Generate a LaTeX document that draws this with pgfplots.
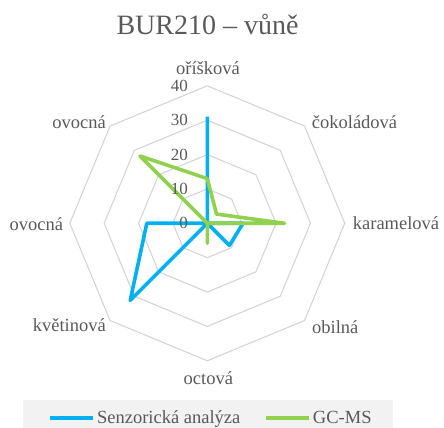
\documentclass[border=0pt]{standalone}
\usepackage{pgfplots}
\pgfplotsset{compat=1.18}
\usepackage{fontspec}
\setmainfont{Liberation Serif}
\definecolor{txt}{HTML}{595959}
\definecolor{gridc}{HTML}{D4D4D4}
\definecolor{blu}{HTML}{00B0F0}
\definecolor{grn}{HTML}{92D050}
\definecolor{legbg}{HTML}{F2F2F2}
\begin{document}
\begin{tikzpicture}
\path[use as bounding box] (0bp,0bp) rectangle (444bp,428bp);
\fill[legbg] (23bp,0bp) rectangle (393bp,28bp);
\begin{axis}[
  at={(207.3bp,204.7bp)}, anchor=origin,
  x=3.4375bp, y=3.4375bp,
  xmin=-40, xmax=40, ymin=-40, ymax=40,
  hide axis, clip=false,
  legend columns=2,
  legend style={at={(axis cs:1.08,-56.64)}, anchor=center,
    fill=none, draw=none, font=\fontsize{18.5bp}{20bp}\selectfont\color{txt},
    /tikz/every even column/.append style={column sep=22bp},
    inner sep=0pt},
  legend image code/.code={\draw[#1] (0bp,0bp) -- (43bp,0bp);},
]
% octagon grid
\addplot[data cs=polar, gridc, line width=1.1bp, forget plot] coordinates {(90,10)(45,10)(0,10)(315,10)(270,10)(225,10)(180,10)(135,10)(90,10)};
\addplot[data cs=polar, gridc, line width=1.1bp, forget plot] coordinates {(90,20)(45,20)(0,20)(315,20)(270,20)(225,20)(180,20)(135,20)(90,20)};
\addplot[data cs=polar, gridc, line width=1.1bp, forget plot] coordinates {(90,30)(45,30)(0,30)(315,30)(270,30)(225,30)(180,30)(135,30)(90,30)};
\addplot[data cs=polar, gridc, line width=1.1bp, forget plot] coordinates {(90,40)(45,40)(0,40)(315,40)(270,40)(225,40)(180,40)(135,40)(90,40)};
% Senzoricka analyza
\addplot[data cs=polar, draw=blu, line width=3.6bp, line join=round] coordinates {(90,31)(45,0)(0,10.4)(315,9.1)(270,0)(225,31.7)(180,17.6)(135,0)(90,31)};
\addlegendentry{Senzorická analýza}
% GC-MS
\addplot[data cs=polar, draw=grn, line width=3.6bp, line join=round] coordinates {(90,13)(45,3.8)(0,22.5)(315,0)(270,5.8)(225,0)(180,0)(135,27.7)(90,13)};
\addlegendentry{GC-MS}
\end{axis}
% title
\node[anchor=base, text=txt, font=\fontsize{28bp}{32bp}\selectfont] at (207.5bp,393bp) {BUR210 – vůně};
% radial tick labels
\begin{scope}[every node/.style={anchor=east, text=txt, font=\fontsize{17bp}{19bp}\selectfont, inner sep=0pt}]
\node at (188bp,204.7bp) {0};
\node at (188bp,239.1bp) {10};
\node at (188bp,273.5bp) {20};
\node at (188bp,307.8bp) {30};
\node at (188bp,342.2bp) {40};
\end{scope}
% category labels
\begin{scope}[every node/.style={text=txt, font=\fontsize{18.5bp}{20bp}\selectfont, inner sep=0pt}]
\node[anchor=center] at (208bp,360bp) {oříšková};
\node[anchor=west] at (311.7bp,306.3bp) {čokoládová};
\node[anchor=west] at (352.7bp,204.7bp) {karamelová};
\node[anchor=west] at (312bp,101.3bp) {obilná};
\node[anchor=center] at (208.3bp,49.7bp) {octová};
\node[anchor=east] at (106bp,103bp) {květinová};
\node[anchor=east] at (63.3bp,203.7bp) {ovocná};
\node[anchor=east] at (106bp,306.3bp) {ovocná};
\end{scope}
\end{tikzpicture}
\end{document}
